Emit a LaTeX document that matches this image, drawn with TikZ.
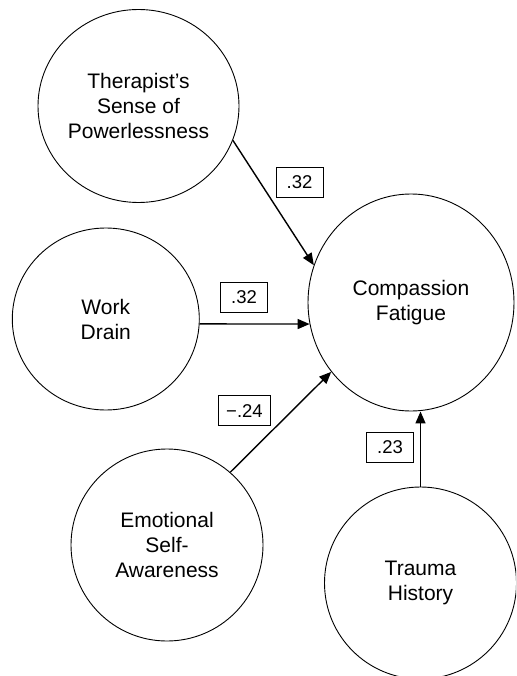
\documentclass[tikz,border=0pt]{standalone}
\usepackage{fontspec}
\setmainfont{Liberation Sans}
\usetikzlibrary{shapes.geometric,arrows.meta,calc}
\begin{document}
\begin{tikzpicture}[x=1pt,y=-1pt,
  var/.style={ellipse,draw,line width=0.9pt,inner sep=0pt,align=center,font=\fontsize{21}{25}\selectfont},
  coef/.style={draw,line width=0.8pt,minimum width=47pt,minimum height=30pt,inner sep=0pt,font=\fontsize{18.5}{20}\selectfont},
  effect/.style={line width=1.4pt,-{Triangle[length=12pt,width=10pt]}}]
\clip (0,0) rectangle (516,676);
\node[var,minimum width=201pt,minimum height=193pt] (T) at (138.5,106) {Therapist’s\\Sense of\\Powerlessness};
\node[var,minimum width=187pt,minimum height=182pt] (W) at (105.8,319) {Work\\Drain};
\node[var,minimum width=206pt,minimum height=217pt] (C) at (411,302.5) {Compassion\\Fatigue};
\node[var,minimum width=192pt,minimum height=192pt] (E) at (167,545) {Emotional\\Self-\\Awareness};
\node[var,minimum width=192pt,minimum height=192pt] (H) at (420.5,583) {Trauma\\History};
\draw[effect] (T.-20.85) -- (C.159);
\draw[effect] (W.-3) -- (C.192);
\draw[effect] (E.49) -- (C.221);
\draw[effect] (H.north) -- (H.north |- C.south);
\node[coef] (b1) at (299.5,182) {.32};
\node[coef] (b2) at (244,297) {.32};
\node[coef,minimum width=52pt] (b3) at (244.5,410.7) {−.24};
\node[coef] (b4) at (390,447) {.23};
\end{tikzpicture}
\end{document}
